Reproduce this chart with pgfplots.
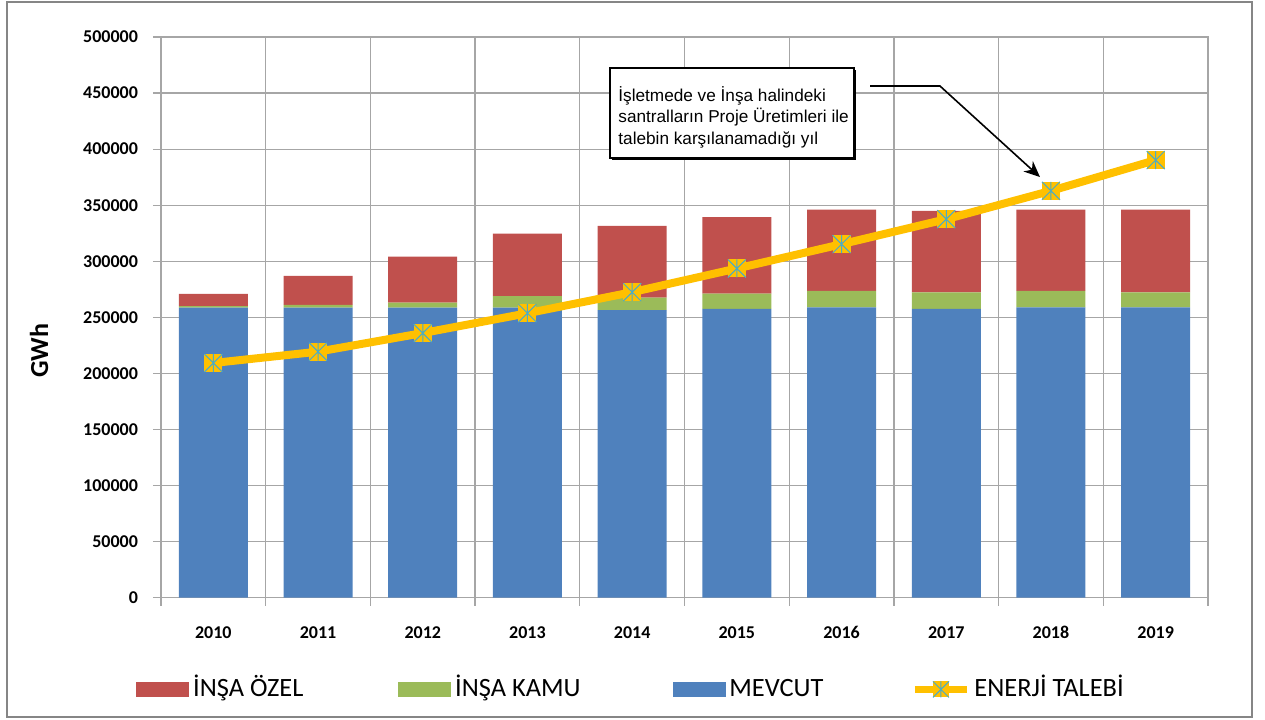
\documentclass[border=0pt]{standalone}
\usepackage{fontspec}
\setmainfont{Carlito}
\newfontfamily\arialfont{Liberation Sans}
\usepackage{pgfplots}
\usepackage{pgfplotstable}
\pgfplotsset{compat=1.18}
\usetikzlibrary{arrows.meta}
\definecolor{cred}{HTML}{C0504D}
\definecolor{cgreen}{HTML}{9BBB59}
\definecolor{cblue}{HTML}{4F81BD}
\definecolor{cyel}{HTML}{FFC000}
\definecolor{cteal}{HTML}{4BACC6}
\definecolor{cgrid}{HTML}{A6A6A6}
\definecolor{cframe}{HTML}{868686}

\pgfdeclareplotmark{sqstar}{%
 \pgfpathrectangle{\pgfpoint{-\pgfplotmarksize}{-\pgfplotmarksize}}{\pgfpoint{2\pgfplotmarksize}{2\pgfplotmarksize}}%
 \pgfsetfillcolor{cyel}\pgfusepathqfill
 \pgfsetstrokecolor{cteal}\pgfsetlinewidth{0.5pt}%
 \pgfpathmoveto{\pgfpoint{-\pgfplotmarksize}{-\pgfplotmarksize}}\pgfpathlineto{\pgfpoint{\pgfplotmarksize}{\pgfplotmarksize}}%
 \pgfpathmoveto{\pgfpoint{-\pgfplotmarksize}{\pgfplotmarksize}}\pgfpathlineto{\pgfpoint{\pgfplotmarksize}{-\pgfplotmarksize}}%
 \pgfpathmoveto{\pgfpoint{0pt}{-\pgfplotmarksize}}\pgfpathlineto{\pgfpoint{0pt}{\pgfplotmarksize}}%
 \pgfusepathqstroke
}

\pgfplotstableread{
x mev kamu ozel talep
0 258700 1200 11000 209200
1 258700 2300 26000 219300
2 258700 4400 40900 235900
3 258700 10100 55800 253600
4 256300 11300 63900 272400
5 257400 13700 68200 293500
6 258900 14600 72600 315200
7 257400 14900 72600 337500
8 258900 14600 72600 362800
9 258900 13400 73800 390200
}\data

\begin{document}
\begin{tikzpicture}
\useasboundingbox (-80.5pt,-60.75pt) rectangle (552pt,298.75pt);
\draw[cframe, line width=1pt] (-76.75pt,-59.75pt) rectangle (545.5pt,297.75pt);
\begin{axis}[
  at={(0,0)}, anchor=south west,
  scale only axis, width=523.5pt, height=280.25pt,
  xmin=-0.5, xmax=9.5, ymin=0, ymax=500000,
  ybar stacked, bar width=34.5pt,
  xtick={-0.5,0.5,...,9.5}, xticklabels={},
  extra x ticks={0,1,2,3,4,5,6,7,8,9},
  extra x tick labels={2010,2011,2012,2013,2014,2015,2016,2017,2018,2019},
  extra x tick style={major tick length=0pt, grid=none,
     xticklabel style={font=\bfseries\fontsize{9}{10}\selectfont, yshift=-11pt}},
  xmajorgrids=true, ymajorgrids=true,
  ytick={0,50000,...,500000},
  scaled y ticks=false,
  /pgf/number format/assume math mode=true,
  yticklabel style={/pgf/number format/.cd, fixed, set thousands separator={}, /tikz/.cd, font=\bfseries\fontsize{9}{10}\selectfont, xshift=-4pt},
  grid style={cgrid, line width=0.6pt},
  major grid style={cgrid, line width=0.6pt},
  tick align=outside, tick pos=left,
  major tick length=4pt,
  tick style={cgrid, line width=0.6pt},
  axis line style={cgrid, line width=0.6pt},
  ylabel={GWh},
  ylabel style={at={(axis description cs:-0.1164,0.44)}, anchor=center, font=\bfseries\fontsize{13}{15}\selectfont},
]
\addplot[fill=cblue, draw=none] table[x=x,y=mev]{\data};
\addplot[fill=cgreen, draw=none] table[x=x,y=kamu]{\data};
\addplot[fill=cred, draw=none] table[x=x,y=ozel]{\data};
\end{axis}
\begin{axis}[
  at={(0,0)}, anchor=south west,
  scale only axis, width=523.5pt, height=280.25pt,
  xmin=-0.5, xmax=9.5, ymin=0, ymax=500000,
  hide axis, clip=false,
  legend columns=4,
  legend style={at={(-0.0239,-0.164)}, anchor=west, draw=none, fill=none,
     inner xsep=0pt, font=\fontsize{13.2}{15}\selectfont,
     nodes={text height=9.5pt, text depth=2.5pt},
     /tikz/column 2/.style={column sep=45.5pt},
     /tikz/column 4/.style={column sep=44pt},
     /tikz/column 6/.style={column sep=42pt}},
]
\addlegendimage{legend image code/.code={\fill[cred] (0pt,-3.5pt) rectangle (26pt,3.5pt);}}
\addlegendentry{İNŞA ÖZEL}
\addlegendimage{legend image code/.code={\fill[cgreen] (0pt,-3.5pt) rectangle (26pt,3.5pt);}}
\addlegendentry{İNŞA KAMU}
\addlegendimage{legend image code/.code={\fill[cblue] (0pt,-3.5pt) rectangle (26pt,3.5pt);}}
\addlegendentry{MEVCUT}
\addplot[cyel, line width=4pt, mark=sqstar, mark size=4.5pt,
  legend image code/.code={\draw[cyel,line width=3.5pt] (0pt,0pt) -- (26pt,0pt);
     \draw[cyel] plot[mark=sqstar, mark size=4pt] coordinates {(13pt,0pt)};}]
  table[x=x,y=talep]{\data};
\addlegendentry{ENERJİ TALEBİ}
\fill[black] ([xshift=1pt,yshift=-1pt]axis cs:3.788,472300) rectangle ([xshift=1pt,yshift=-1pt]axis cs:6.119,392000);
\filldraw[fill=white, draw=black, line width=1pt] (axis cs:3.788,472300) rectangle (axis cs:6.119,392000);
\node[anchor=west, align=left, inner sep=0pt, font=\arialfont\fontsize{8.6}{10.75}\selectfont] at (axis cs:3.865,428600) {İşletmede ve İnşa halindeki\\santralların Proje Üretimleri ile\\talebin karşılanamadığı yıl};
\draw[-{Stealth[length=8pt,width=7pt]}, line width=0.8pt] (axis cs:6.272,456300) -- (axis cs:6.94,456300) -- (axis cs:7.895,375100);
\end{axis}
\end{tikzpicture}
\end{document}
